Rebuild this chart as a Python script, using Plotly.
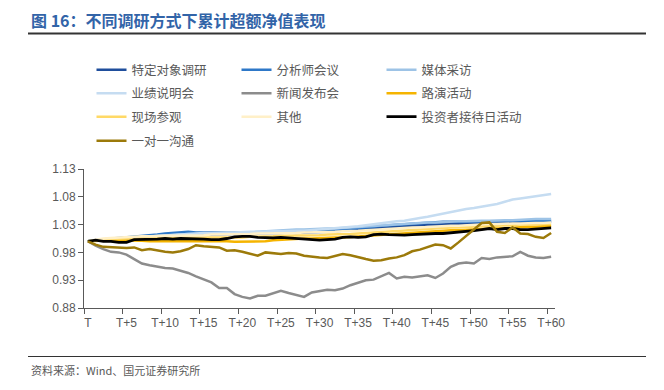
import plotly.graph_objects as go

# ---------------- data ----------------
x_idx = list(range(61))
tick_pos = [0, 5, 10, 15, 20, 25, 30, 35, 40, 45, 50, 55, 60]
tick_labels = ["T", "T+5", "T+10", "T+15", "T+20", "T+25", "T+30",
               "T+35", "T+40", "T+45", "T+50", "T+55", "T+60"]
y_ticks = [0.88, 0.93, 0.98, 1.03, 1.08, 1.13]

s_target = [1.000, 1.002, 1.003, 1.004, 1.004, 1.005, 1.006, 1.007, 1.008, 1.009, 1.010,
            1.011, 1.012, 1.013, 1.013, 1.012, 1.012, 1.013, 1.012, 1.013, 1.014,
            1.014, 1.014, 1.014, 1.015, 1.015, 1.016, 1.015, 1.016, 1.016, 1.017,
            1.017, 1.018, 1.019, 1.020, 1.021, 1.022, 1.023, 1.024, 1.026, 1.027,
            1.028, 1.029, 1.029, 1.030, 1.030, 1.030, 1.031, 1.031, 1.032, 1.032,
            1.032, 1.033, 1.032, 1.033, 1.033, 1.034, 1.034, 1.034, 1.035, 1.035]
s_analyst = [1.000, 1.002, 1.003, 1.005, 1.006, 1.007, 1.008, 1.010, 1.011, 1.012, 1.014,
             1.015, 1.016, 1.017, 1.016, 1.016, 1.016, 1.016, 1.015, 1.016, 1.016,
             1.016, 1.016, 1.017, 1.017, 1.017, 1.018, 1.018, 1.018, 1.019, 1.019,
             1.020, 1.020, 1.021, 1.022, 1.023, 1.025, 1.026, 1.028, 1.029, 1.030,
             1.031, 1.032, 1.033, 1.034, 1.034, 1.035, 1.035, 1.035, 1.035, 1.036,
             1.036, 1.036, 1.036, 1.036, 1.037, 1.037, 1.037, 1.038, 1.038, 1.037]
s_media = [1.000, 1.002, 1.003, 1.004, 1.005, 1.006, 1.007, 1.008, 1.009, 1.010, 1.011,
           1.012, 1.012, 1.013, 1.013, 1.013, 1.014, 1.014, 1.015, 1.015, 1.016,
           1.016, 1.017, 1.018, 1.019, 1.020, 1.020, 1.021, 1.021, 1.022, 1.022,
           1.023, 1.023, 1.024, 1.024, 1.025, 1.026, 1.027, 1.028, 1.029, 1.030,
           1.031, 1.032, 1.033, 1.034, 1.034, 1.035, 1.036, 1.036, 1.036, 1.037,
           1.037, 1.037, 1.038, 1.038, 1.038, 1.039, 1.039, 1.040, 1.040, 1.040]
s_earnings = [1.000, 1.002, 1.003, 1.004, 1.005, 1.006, 1.007, 1.008, 1.009, 1.010, 1.011,
              1.012, 1.013, 1.014, 1.014, 1.015, 1.015, 1.016, 1.016, 1.016, 1.017,
              1.017, 1.017, 1.018, 1.018, 1.018, 1.019, 1.019, 1.019, 1.020, 1.021,
              1.022, 1.024, 1.025, 1.026, 1.027, 1.029, 1.031, 1.032, 1.034, 1.036,
              1.037, 1.040, 1.042, 1.044, 1.047, 1.049, 1.052, 1.055, 1.058, 1.060,
              1.062, 1.064, 1.067, 1.071, 1.075, 1.077, 1.079, 1.081, 1.083, 1.085]
s_press = [1.000, 0.992, 0.986, 0.981, 0.980, 0.976, 0.968, 0.960, 0.957, 0.954, 0.952,
           0.951, 0.947, 0.943, 0.937, 0.931, 0.926, 0.916, 0.916, 0.905, 0.900,
           0.897, 0.902, 0.902, 0.906, 0.911, 0.907, 0.903, 0.900, 0.908, 0.910,
           0.913, 0.912, 0.915, 0.921, 0.926, 0.930, 0.931, 0.937, 0.943, 0.933,
           0.936, 0.935, 0.937, 0.939, 0.934, 0.942, 0.954, 0.960, 0.962, 0.960,
           0.970, 0.968, 0.971, 0.972, 0.973, 0.981, 0.974, 0.971, 0.970, 0.972]
s_roadshow = [1.000, 1.001, 1.001, 1.002, 1.002, 1.002, 1.001, 1.001, 1.000, 1.000, 1.000,
              1.000, 1.001, 1.001, 1.000, 1.000, 1.000, 1.000, 1.000, 0.999, 0.999,
              0.999, 1.000, 1.000, 1.002, 1.003, 1.004, 1.004, 1.005, 1.005, 1.006,
              1.006, 1.007, 1.007, 1.008, 1.009, 1.010, 1.011, 1.012, 1.013, 1.013,
              1.014, 1.015, 1.016, 1.017, 1.018, 1.019, 1.020, 1.020, 1.021, 1.022,
              1.022, 1.023, 1.023, 1.024, 1.025, 1.025, 1.026, 1.026, 1.027, 1.028]
s_site = [1.000, 1.002, 1.003, 1.004, 1.005, 1.005, 1.006, 1.006, 1.007, 1.007, 1.007,
          1.007, 1.007, 1.006, 1.006, 1.006, 1.006, 1.006, 1.007, 1.007, 1.007,
          1.008, 1.008, 1.009, 1.009, 1.010, 1.010, 1.010, 1.011, 1.011, 1.011,
          1.012, 1.012, 1.013, 1.013, 1.014, 1.015, 1.016, 1.017, 1.018, 1.019,
          1.019, 1.020, 1.021, 1.022, 1.023, 1.024, 1.025, 1.025, 1.026, 1.027,
          1.027, 1.028, 1.028, 1.029, 1.029, 1.030, 1.030, 1.030, 1.031, 1.031]
s_other = [1.000, 1.003, 1.005, 1.006, 1.007, 1.008, 1.008, 1.009, 1.009, 1.010, 1.010,
           1.010, 1.010, 1.011, 1.011, 1.011, 1.012, 1.012, 1.012, 1.013, 1.013,
           1.013, 1.014, 1.014, 1.014, 1.015, 1.015, 1.015, 1.016, 1.016, 1.016,
           1.017, 1.017, 1.018, 1.018, 1.019, 1.020, 1.021, 1.022, 1.022, 1.023,
           1.024, 1.025, 1.025, 1.026, 1.027, 1.027, 1.028, 1.028, 1.029, 1.030,
           1.030, 1.031, 1.031, 1.032, 1.032, 1.032, 1.033, 1.033, 1.033, 1.034]
s_investday = [1.000, 1.002, 1.000, 1.000, 0.998, 0.998, 1.003, 1.003, 1.003, 1.004, 1.005,
               1.004, 1.005, 1.005, 1.004, 1.004, 1.003, 1.003, 1.005, 1.008, 1.009,
               1.009, 1.007, 1.006, 1.006, 1.007, 1.006, 1.004, 1.003, 1.003, 1.002,
               1.003, 1.004, 1.007, 1.008, 1.007, 1.008, 1.012, 1.013, 1.012, 1.011,
               1.011, 1.012, 1.013, 1.014, 1.014, 1.014, 1.015, 1.016, 1.017, 1.019,
               1.021, 1.023, 1.021, 1.023, 1.023, 1.021, 1.021, 1.022, 1.022, 1.024]
s_one2one = [1.000, 0.994, 0.990, 0.989, 0.988, 0.988, 0.989, 0.984, 0.986, 0.983, 0.981,
             0.980, 0.982, 0.986, 0.993, 0.991, 0.990, 0.989, 0.983, 0.984, 0.981,
             0.977, 0.974, 0.980, 0.978, 0.977, 0.979, 0.978, 0.974, 0.972, 0.971,
             0.970, 0.974, 0.977, 0.975, 0.971, 0.968, 0.965, 0.966, 0.969, 0.971,
             0.975, 0.982, 0.985, 0.989, 0.994, 0.993, 0.987, 0.998, 1.010, 1.022,
             1.033, 1.034, 1.017, 1.015, 1.025, 1.014, 1.013, 1.008, 1.006, 1.015]

series_names = ["特定对象调研", "分析师会议", "媒体采访", "业绩说明会", "新闻发布会",
                "路演活动", "现场参观", "其他", "投资者接待日活动", "一对一沟通"]
series_values = [s_target, s_analyst, s_media, s_earnings, s_press,
                 s_roadshow, s_site, s_other, s_investday, s_one2one]
series_colors = ["#1F4E9C", "#2E78C8", "#9DC3E6", "#C5DCF1", "#8C8C8C",
                 "#F5B400", "#FFD966", "#FFF0C8", "#000000", "#9C7A0A"]
series_widths = [2.5, 2.5, 2.5, 2.5, 2.5, 2.5, 2.5, 2.5, 2.8, 2.5]
legend_rows = ["legend", "legend", "legend", "legend2", "legend2",
               "legend2", "legend3", "legend3", "legend3", "legend4"]

# ---------------- geometry helpers ----------------
# the page body has an 8px margin, so figure pixel = screen pixel - 8
OFF = 8
W, H = 664 - OFF, 390 - OFF
PL, PR, PT, PB = 84 - OFF, 555 - OFF, 169 - OFF, 308 - OFF


def px2x(px):
    return (px - OFF - PL) / (PR - PL)


def py2y(py):
    return (PB - (py - OFF)) / (PB - PT)


fig = go.Figure()
for name, vals, col, lw, lg in zip(series_names, series_values, series_colors,
                                    series_widths, legend_rows):
    fig.add_trace(go.Scatter(x=x_idx, y=vals, mode="lines", name=name,
                             line=dict(color=col, width=lw), legend=lg,
                             hoverinfo="skip"))

leg_font = dict(family="Noto Sans CJK SC", size=12.5, color="#595959")
row_y = [70, 93.5, 117, 141]


def leg(yc):
    return dict(orientation="h", xref="container", yref="container",
                x=(91.5 - OFF) / W, y=1 - (yc - OFF) / H, xanchor="left",
                yanchor="middle", entrywidth=100, entrywidthmode="pixels",
                font=leg_font, bgcolor="rgba(0,0,0,0)", borderwidth=0,
                traceorder="normal", itemclick=False, itemdoubleclick=False)


axis_font = dict(family="Liberation Sans, Arial", size=12, color="#595959")

fig.update_layout(
    width=W, height=H,
    margin=dict(l=PL, r=W - PR, t=PT, b=H - PB, pad=0, autoexpand=False),
    paper_bgcolor="white", plot_bgcolor="white",
    showlegend=True,
    legend=leg(row_y[0]), legend2=leg(row_y[1]),
    legend3=leg(row_y[2]), legend4=leg(row_y[3]),
    xaxis=dict(range=[-0.5, 60.5], tickmode="array", tickvals=tick_pos,
               ticktext=tick_labels, ticks="", showgrid=False, zeroline=False,
               showline=True, linecolor="#595959", linewidth=1,
               tickfont=axis_font, ticklabelstandoff=4,
               minor=dict(tick0=4.5, dtick=5, ticks="outside", ticklen=5,
                          tickcolor="#595959", tickwidth=1, showgrid=False)),
    yaxis=dict(range=[0.88, 1.13], tickmode="array", tickvals=y_ticks,
               ticktext=[f"{v:.2f}" for v in y_ticks], ticks="outside",
               ticklen=5, tickcolor="#595959", showgrid=False, zeroline=False,
               showline=True, linecolor="#595959", linewidth=1,
               tickfont=axis_font),
    font=dict(family="Noto Sans CJK SC"),
)

# title & rules & source
fig.add_annotation(xref="paper", yref="paper", x=px2x(29), y=py2y(20),
                   xanchor="left", yanchor="middle", showarrow=False,
                   text="<b>图 16：不同调研方式下累计超额净值表现</b>",
                   font=dict(family="Noto Sans CJK SC", size=16, color="#3264A8"))
fig.add_shape(type="line", xref="paper", yref="paper",
              x0=px2x(28), x1=px2x(646), y0=py2y(33.5), y1=py2y(33.5),
              line=dict(color="#333333", width=2))
fig.add_shape(type="line", xref="paper", yref="paper",
              x0=px2x(28), x1=px2x(646), y0=py2y(356.5), y1=py2y(356.5),
              line=dict(color="#333333", width=1))
fig.add_annotation(xref="paper", yref="paper", x=px2x(29), y=py2y(370),
                   xanchor="left", yanchor="middle", showarrow=False,
                   text="资料来源：Wind、国元证券研究所",
                   font=dict(family="Noto Sans CJK SC", size=11, color="#595959"))

fig.write_html("out.html")
